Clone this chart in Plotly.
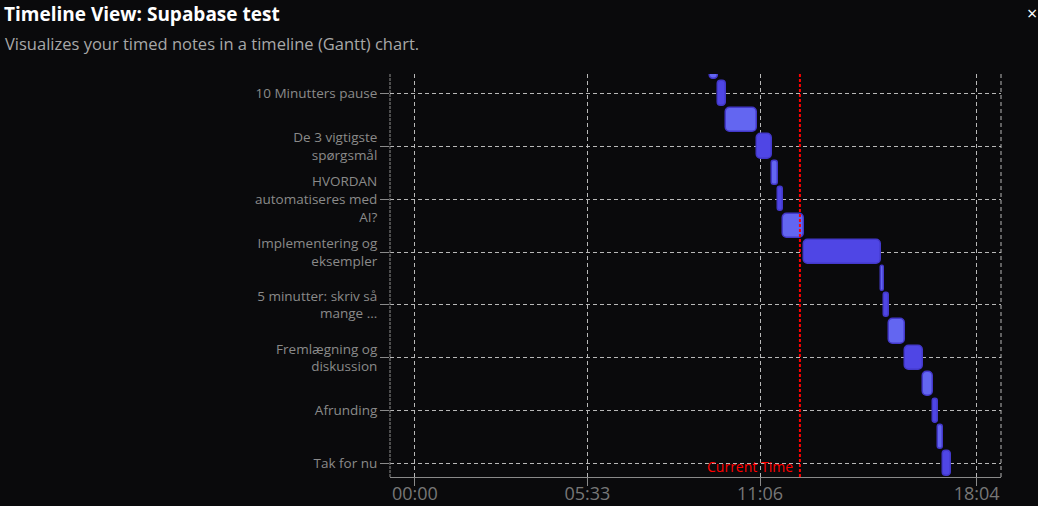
import plotly.graph_objects as go

# ---- data ----
start_times = ["09:30", "09:45", "10:00", "11:00", "11:30", "11:40", "11:50", "12:30",
               "15:00", "15:05", "15:15", "15:45", "16:20", "16:40", "16:50", "17:00"]
end_times = ["09:45", "10:00", "11:00", "11:30", "11:40", "11:50", "12:30", "15:00",
             "15:05", "15:15", "15:45", "16:20", "16:40", "16:50", "17:00", "17:15"]
label_rows = [1, 3, 5, 7, 9, 11, 13, 15]
label_texts = ["10 Minutters pause", "De 3 vigtigste<br>spørgsmål",
               "HVORDAN<br>automatiseres med<br>AI?", "Implementering og<br>eksempler",
               "5 minutter: skriv så<br>mange ...", "Fremlægning og<br>diskussion",
               "Afrunding", "Tak for nu"]
x_tick_labels = ["00:00", "05:33", "11:06", "18:04"]
current_time = "12:23"
x_range_labels = ["-00:48", "18:51"]


def to_min(s):
    neg = s.startswith("-")
    h, m = s.lstrip("-").split(":")
    v = int(h) * 60 + int(m)
    return -v if neg else v


starts = [to_min(s) for s in start_times]
ends = [to_min(e) for e in end_times]
durs = [e - s for s, e in zip(starts, ends)]
rows = list(range(len(starts)))
colors = ["#6366f1" if i % 2 == 0 else "#4f46e5" for i in rows]
x_ticks = [to_min(t) for t in x_tick_labels]
now = to_min(current_time)
x0, x1 = [to_min(t) for t in x_range_labels]

FONT = "Open Sans, Noto Sans, sans-serif"

fig = go.Figure()
fig.add_trace(go.Bar(
    y=rows, x=durs, base=starts, orientation="h", width=0.92,
    marker=dict(color=colors, line=dict(color="#4338ca", width=1.5), cornerradius=5),
    hoverinfo="skip", showlegend=False,
))

grid = "#b8b8b8"
fig.update_layout(
    width=1038, height=506,
    margin=dict(l=390, r=37, t=74, b=29, autoexpand=False),
    paper_bgcolor="#0a0a0c", plot_bgcolor="#0a0a0c",
    font=dict(family=FONT, color="#888888"),
    xaxis=dict(range=[x0, x1], tickvals=x_ticks, ticktext=x_tick_labels,
               showgrid=True, gridcolor=grid, griddash="4px,3px", gridwidth=1,
               zeroline=False, showline=True, linecolor="#8a8a8a", linewidth=1,
               ticks="outside", ticklen=8, tickcolor="#8a8a8a",
               ticklabelstandoff=-8,
               tickfont=dict(size=18, color="#777777", family=FONT)),
    yaxis=dict(range=[15.51, 0.26], tickvals=label_rows, ticktext=label_texts,
               showgrid=True, gridcolor=grid, griddash="4px,3px", gridwidth=1,
               zeroline=False, showline=False,
               ticks="outside", ticklen=9, tickcolor="#8a8a8a",
               tickfont=dict(size=13.5, color="#8a8a8a", family=FONT)),
    bargap=0,
)

# borders
fig.add_shape(type="line", xref="paper", yref="paper", x0=0, x1=0, y0=0, y1=1,
              line=dict(color="#7a7a7a", width=1.2, dash="3px,1px"))
fig.add_shape(type="line", xref="paper", yref="paper", x0=1, x1=1, y0=0, y1=1,
              line=dict(color=grid, width=1, dash="4px,3px"))

# current time
fig.add_shape(type="line", xref="x", yref="paper", x0=now, x1=now, y0=0, y1=1,
              line=dict(color="#ff0000", width=2, dash="3px,2px"))
fig.add_annotation(x=now, xref="x", y=15, yref="y", text="Current Time",
                   showarrow=False, xanchor="right", yanchor="middle", xshift=-5,
                   yshift=-3, font=dict(size=14, color="#ff0000", family=FONT))

# header
fig.add_annotation(xref="paper", yref="paper", x=-387 / 611, y=1 + 74 / 403,
                   text="<b>Timeline View: Supabase test</b>", showarrow=False,
                   xanchor="left", yanchor="top", borderpad=0,
                   font=dict(size=19, color="#ffffff", family=FONT))
fig.add_annotation(xref="paper", yref="paper", x=-387 / 611, y=1 + 30 / 403,
                   text="Visualizes your timed notes in a timeline (Gantt) chart.",
                   showarrow=False, xanchor="left", yanchor="middle",
                   font=dict(size=16.5, color="#a8a8a8", family=FONT))
fig.add_annotation(xref="paper", yref="paper", x=1 + 31 / 611, y=1 + 74 / 403,
                   text="×", showarrow=False, xanchor="center", yanchor="top",
                   borderpad=0, font=dict(size=18, color="#ffffff", family=FONT))

fig.write_html("out.html", config={"displayModeBar": False})
